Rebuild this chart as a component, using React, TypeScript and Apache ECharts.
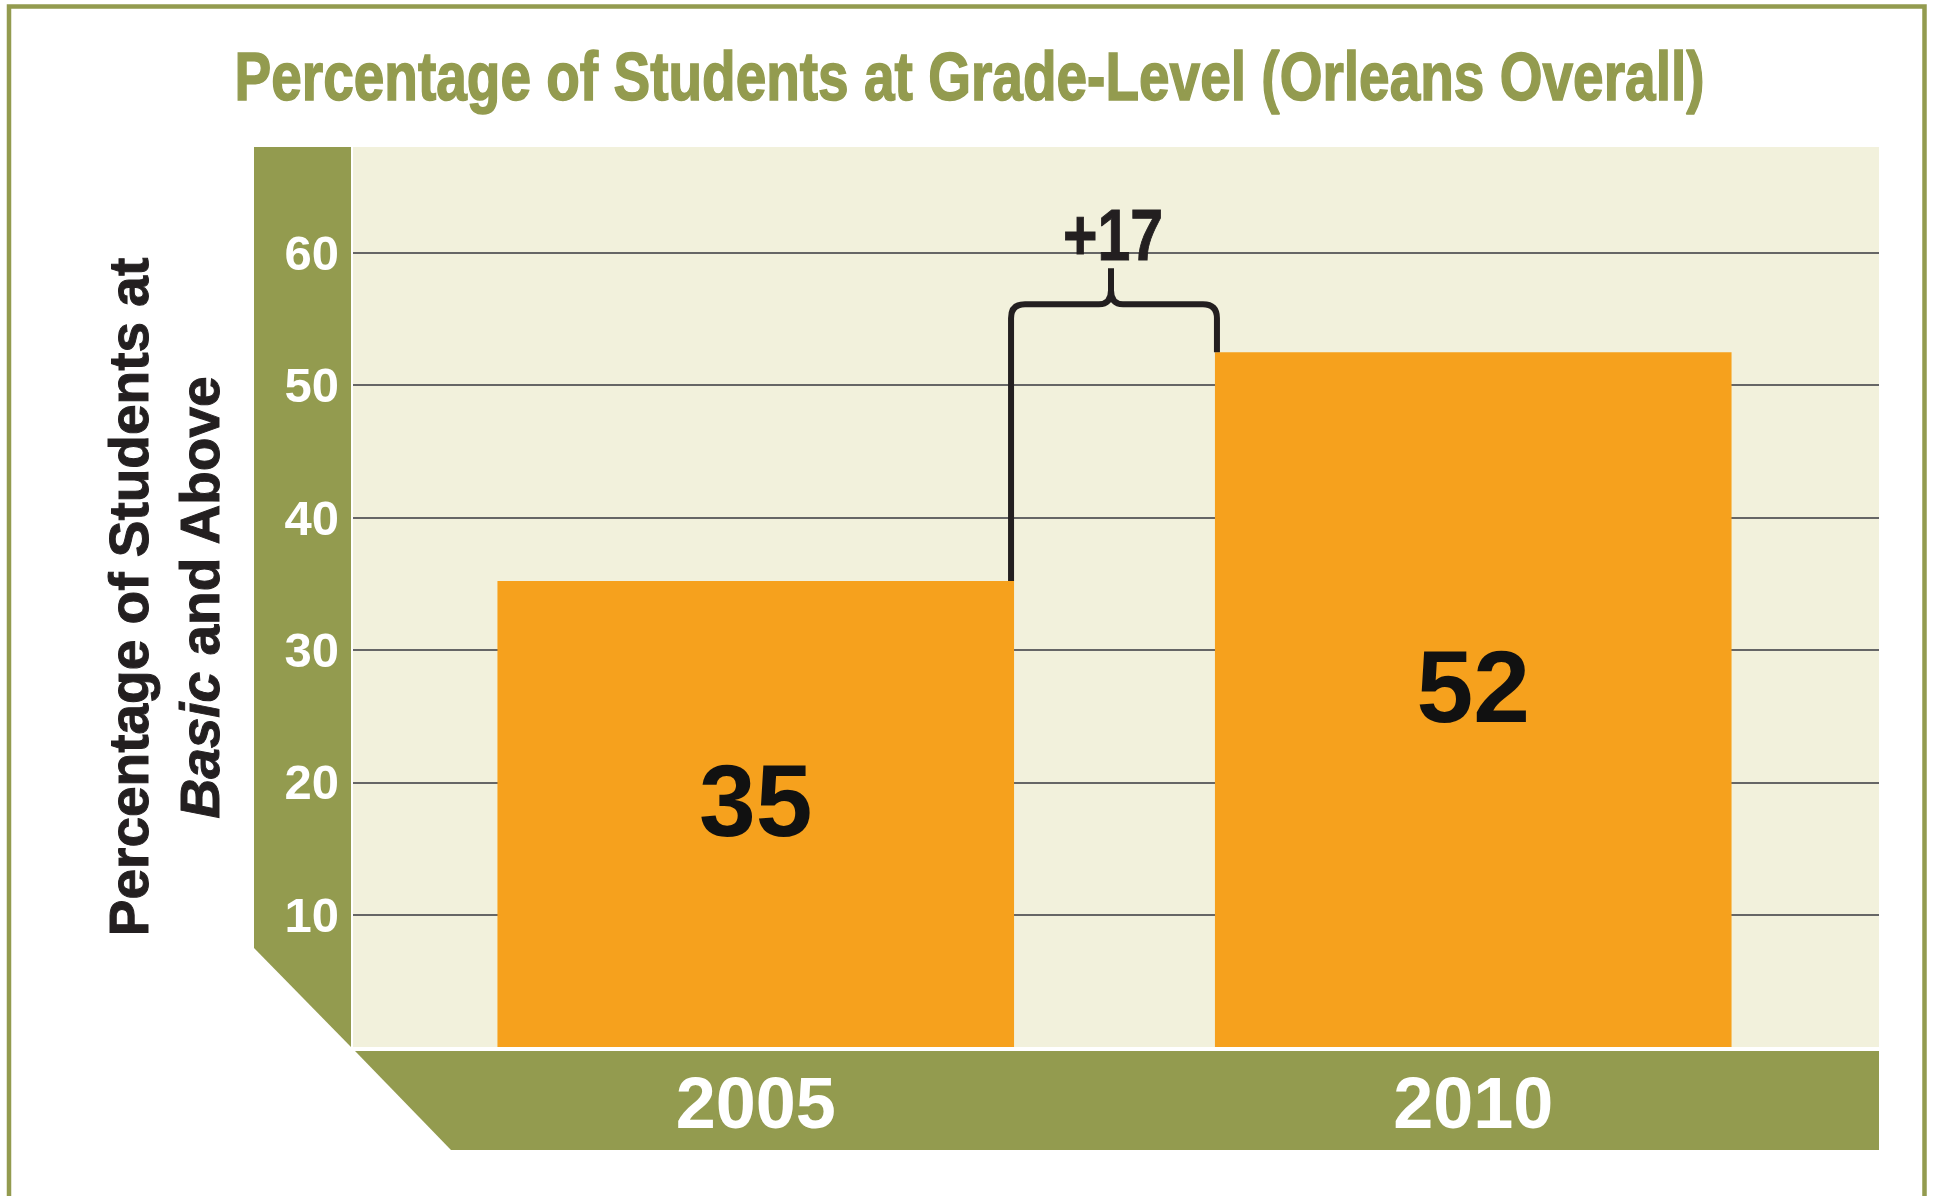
import React, { useEffect, useRef } from 'react';
import * as echarts from 'echarts';

// ---- data ----
const categories = ['2005', '2010'];
const values = [35.2, 52.5];
const valueLabels = ['35', '52'];
const yTickStep = 10;
const yMax = 68;
const title = 'Percentage of Students at Grade-Level (Orleans Overall)';
const yNameLine1 = 'Percentage of Students at';
const yNameItalic = 'Basic';
const yNameRest = ' and Above';

// ---- styles ----
const OLIVE = '#939b4f';
const CREAM = '#f2f1dc';
const ORANGE = '#f6a11d';
const INK = '#231f20';
const GRIDLINE = '#666666';
const SANS = '"Liberation Sans", Arial, sans-serif';

function hasFont(name: string): boolean {
  const ctx = document.createElement('canvas').getContext('2d');
  if (!ctx) return false;
  const s = 'mmmmmmmmmlli 2005 WwQ';
  for (const base of ['monospace', 'serif']) {
    ctx.font = `bold 72px ${base}`;
    const a = ctx.measureText(s).width;
    ctx.font = `bold 72px "${name}", ${base}`;
    const b = ctx.measureText(s).width;
    if (Math.abs(a - b) > 0.5) return true;
  }
  return false;
}

function measure(text: string, font: string): number {
  const ctx = document.createElement('canvas').getContext('2d');
  if (!ctx) return 1;
  ctx.font = font;
  return ctx.measureText(text).width;
}

export default function App() {
  const ref = useRef<HTMLDivElement>(null);

  useEffect(() => {
    document.body.style.margin = '0';
    if (!ref.current) return;
    const chart = echarts.init(ref.current, undefined, { renderer: 'svg' });

    const narrow = hasFont('Liberation Sans Narrow');
    const xLabelFont = narrow ? '"Liberation Sans Narrow", sans-serif' : SANS;
    const xLabelSize = narrow ? 82 : 72;
    const xLabelMargin = narrow ? 14 : 20;

    const titleWidth = measure(title, 'bold 68px "Liberation Sans"');
    const titleScale = 1471 / titleWidth;

    const diffText = '+' + (Number(valueLabels[1]) - Number(valueLabels[0]));

    const option: any = {
      animation: false,
      backgroundColor: '#ffffff',
      graphic: {
        elements: [
          {
            type: 'rect',
            z: -2,
            shape: { x: 9, y: 6.5, width: 1915.5, height: 1260 },
            style: { fill: 'none', stroke: OLIVE, lineWidth: 4.5 },
          },
          {
            type: 'polygon',
            z: -1,
            shape: { points: [[254, 147], [351, 147], [351, 1047], [254, 948]] },
            style: { fill: OLIVE },
          },
          {
            type: 'polygon',
            z: -1,
            shape: { points: [[355, 1051], [1879, 1051], [1879, 1150], [451, 1150]] },
            style: { fill: OLIVE },
          },
          {
            type: 'text',
            z: 10,
            x: 969.5,
            y: 76,
            scaleX: titleScale,
            style: {
              text: title,
              fontFamily: '"Liberation Sans"',
              fontWeight: 'bold',
              fontSize: 68,
              fill: OLIVE,
              stroke: OLIVE,
              lineWidth: 1.5,
              align: 'center',
              verticalAlign: 'middle',
            },
          },
        ],
      },
      grid: [
        {
          left: 353,
          top: 147,
          width: 1526,
          height: 900,
          show: true,
          backgroundColor: CREAM,
          borderWidth: 0,
        },
        { left: 397, top: 147, width: 1435, height: 900 },
      ],
      xAxis: [
        { type: 'value', gridIndex: 0, show: false, min: 0, max: 1 },
        {
          type: 'category',
          gridIndex: 1,
          data: categories,
          axisLine: { show: false },
          axisTick: { show: false },
          axisLabel: {
            color: '#ffffff',
            fontFamily: xLabelFont,
            fontWeight: 'bold',
            fontSize: xLabelSize,
            margin: xLabelMargin,
          },
        },
      ],
      yAxis: [
        {
          type: 'value',
          gridIndex: 0,
          min: 0,
          max: yMax,
          interval: yTickStep,
          axisLine: { show: false },
          axisTick: { show: false },
          splitLine: {
            show: true,
            showMinLine: false,
            showMaxLine: false,
            lineStyle: { color: GRIDLINE, width: 2 },
          },
          axisLabel: {
            color: '#ffffff',
            fontFamily: SANS,
            fontWeight: 'bold',
            fontSize: 49,
            margin: 14,
            formatter: (v: number) => (v > 0 && v % yTickStep === 0 ? String(v) : ''),
          },
          name: `{a|${yNameLine1}}\n{i|${yNameItalic}}{a|${yNameRest}}`,
          nameLocation: 'middle',
          nameRotate: 90,
          nameGap: 118,
          nameTextStyle: {
            color: INK,
            fontFamily: SANS,
            fontWeight: 'bold',
            fontSize: 55,
            lineHeight: 71,
            rich: {
              a: {
                color: INK,
                fontFamily: SANS,
                fontWeight: 'bold',
                fontSize: 55,
                lineHeight: 71,
                textBorderColor: INK,
                textBorderWidth: 1,
              },
              i: {
                color: INK,
                fontFamily: SANS,
                fontWeight: 'bold',
                fontStyle: 'italic',
                fontSize: 55,
                lineHeight: 71,
                textBorderColor: INK,
                textBorderWidth: 1,
              },
            },
          },
        },
        { type: 'value', gridIndex: 1, min: 0, max: yMax, show: false },
      ],
      series: [
        {
          type: 'bar',
          xAxisIndex: 1,
          yAxisIndex: 1,
          data: values,
          barCategoryGap: '28%',
          itemStyle: { color: ORANGE },
          label: {
            show: true,
            position: 'inside',
            offset: [0, -13],
            color: '#111111',
            fontFamily: SANS,
            fontWeight: 'bold',
            fontSize: 102,
            formatter: (p: any) => valueLabels[p.dataIndex],
          },
          z: 3,
        },
        {
          type: 'custom',
          xAxisIndex: 1,
          yAxisIndex: 1,
          z: 5,
          encode: { x: [0, 1], y: [2, 3] },
          data: [[0, 1, values[0], values[1]]],
          renderItem: (params: any, api: any) => {
            const a = api.coord([api.value(0), api.value(2)]);
            const b = api.coord([api.value(1), api.value(3)]);
            const band = api.size([1, 0])[0];
            const bw = band * 0.72;
            const xL = a[0] + bw / 2 - 3;
            const xR = b[0] - bw / 2 + 2;
            const yTop = Math.min(a[1], b[1]);
            const yH = yTop - 48;
            const xm = (xL + xR) / 2 - 3;
            const r = 14;
            const d =
              `M${xL},${a[1]} L${xL},${yH + r} Q${xL},${yH} ${xL + r},${yH} ` +
              `L${xm - 12},${yH} Q${xm},${yH} ${xm},${yH - 14} L${xm},${yH - 36} ` +
              `M${xm},${yH - 14} Q${xm},${yH} ${xm + 12},${yH} ` +
              `L${xR - r},${yH} Q${xR},${yH} ${xR},${yH + r} L${xR},${b[1]}`;
            return {
              type: 'group',
              children: [
                {
                  type: 'path',
                  shape: { pathData: d },
                  style: { fill: 'none', stroke: INK, lineWidth: 6, lineJoin: 'round' },
                },
                {
                  type: 'text',
                  x: xm + 2,
                  y: yH - 69,
                  scaleX: 0.82,
                  style: {
                    text: diffText,
                    fontFamily: '"Liberation Sans"',
                    fontWeight: 'bold',
                    fontSize: 72,
                    fill: INK,
                    stroke: INK,
                    lineWidth: 1,
                    align: 'center',
                    verticalAlign: 'middle',
                  },
                },
              ],
            };
          },
        },
      ],
    };

    chart.setOption(option);
    return () => chart.dispose();
  }, []);

  return <div ref={ref} style={{ width: 1935, height: 1196 }} />;
}
